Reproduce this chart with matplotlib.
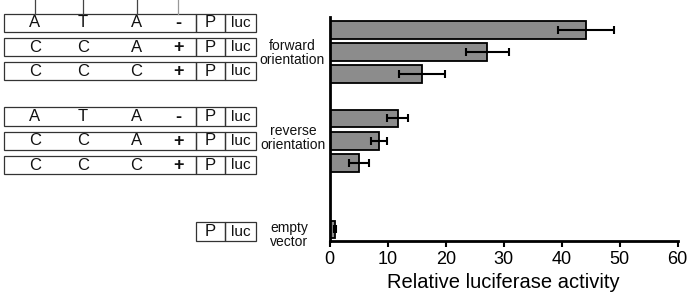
import matplotlib
matplotlib.use("Agg")
import matplotlib.pyplot as plt
from matplotlib.patches import Rectangle

plt.rcParams['font.family'] = ['Liberation Sans', 'DejaVu Sans']

# ---- data ----
constructs = ["ATA-", "CCA+", "CCC+", "ATA-", "CCA+", "CCC+", "empty"]
activity = [44.2, 27.2, 15.9, 11.7, 8.5, 5.0, 0.9]
errors = [4.8, 3.7, 3.9, 1.8, 1.3, 1.7, 0.1]
slots = [0, 1, 2, 4, 5, 6, 9]
group_labels = ["forward\norientation", "reverse\norientation", "empty\nvector"]
xticks = [0, 10, 20, 30, 40, 50, 60]
xlabel = "Relative luciferase activity"

W, H = 688, 299
fig = plt.figure(figsize=(W / 100, H / 100), dpi=100)

# ---- left schematic (pixel coordinates) ----
ov = fig.add_axes([0, 0, 1, 1])
ov.set_xlim(0, W)
ov.set_ylim(H, 0)
ov.axis("off")

row_centers = [22.8, 47.2, 71.2, 116.7, 140.8, 165.0, 231.5]
row_h = 18.5
x_left, x_p, x_luc, x_right = 4, 195.7, 225.3, 255.7
letter_x = [35, 82.7, 136.5, 178.3]
lc = "#333333"
for c, yc in zip(constructs, row_centers):
    y0 = yc - row_h / 2
    if c != "empty":
        ov.add_patch(Rectangle((x_left, y0), x_p - x_left, row_h, fill=False,
                               ec=lc, lw=0.9))
        for ch, lx in zip(c, letter_x):
            if ch in "+-":
                ov.text(lx, yc + 0.5, ch, ha="center", va="center", fontsize=13,
                        fontweight="bold", color="#111111")
            else:
                ov.text(lx, yc, ch, ha="center", va="center", fontsize=12,
                        color="#111111")
    ov.add_patch(Rectangle((x_p, y0), x_luc - x_p, row_h, fill=False, ec=lc, lw=0.9))
    ov.add_patch(Rectangle((x_luc, y0), x_right - x_luc, row_h, fill=False, ec=lc, lw=0.9))
    ov.text((x_p + x_luc) / 2, yc, "P", ha="center", va="center", fontsize=12,
            color="#111111")
    ov.text((x_luc + x_right) / 2, yc, "luc", ha="center", va="center", fontsize=11,
            color="#111111")

for i, lx in enumerate(letter_x):
    ov.plot([lx, lx], [0, row_centers[0] - row_h / 2],
            color="#444444" if i < 3 else "#999999", lw=0.9)

label_pos = [(292.5, 53), (293, 138), (289.5, 235)]
for lab, (lx, ly) in zip(group_labels, label_pos):
    ov.text(lx, ly, lab, ha="center", va="center", fontsize=10, linespacing=1.05,
            color="#111111")

# ---- bar chart ----
ax_top, ax_bot = 16.7, 241.0
ax = fig.add_axes([329.7 / W, (H - ax_bot) / H, (677.7 - 329.7) / W, (ax_bot - ax_top) / H])
ax.barh(slots, activity, height=0.8, color="#8c8c8c", edgecolor="black", linewidth=1.3,
        xerr=errors, error_kw=dict(ecolor="black", elinewidth=1.5, capsize=3, capthick=1.5))
ax.set_ylim(9.52, -0.585)
ax.set_xlim(0, 60)
ax.set_xticks(xticks)
ax.set_xticklabels([str(t) for t in xticks], fontsize=13)
ax.set_yticks([])
ax.set_xlabel(xlabel, fontsize=14.5, labelpad=4)
for s in ["top", "right"]:
    ax.spines[s].set_visible(False)
for s in ["left", "bottom"]:
    ax.spines[s].set_linewidth(2)
ax.tick_params(axis="x", direction="out", length=4, width=1.5, pad=3)
ax.patch.set_alpha(0)

fig.savefig("out.png", dpi=100)
